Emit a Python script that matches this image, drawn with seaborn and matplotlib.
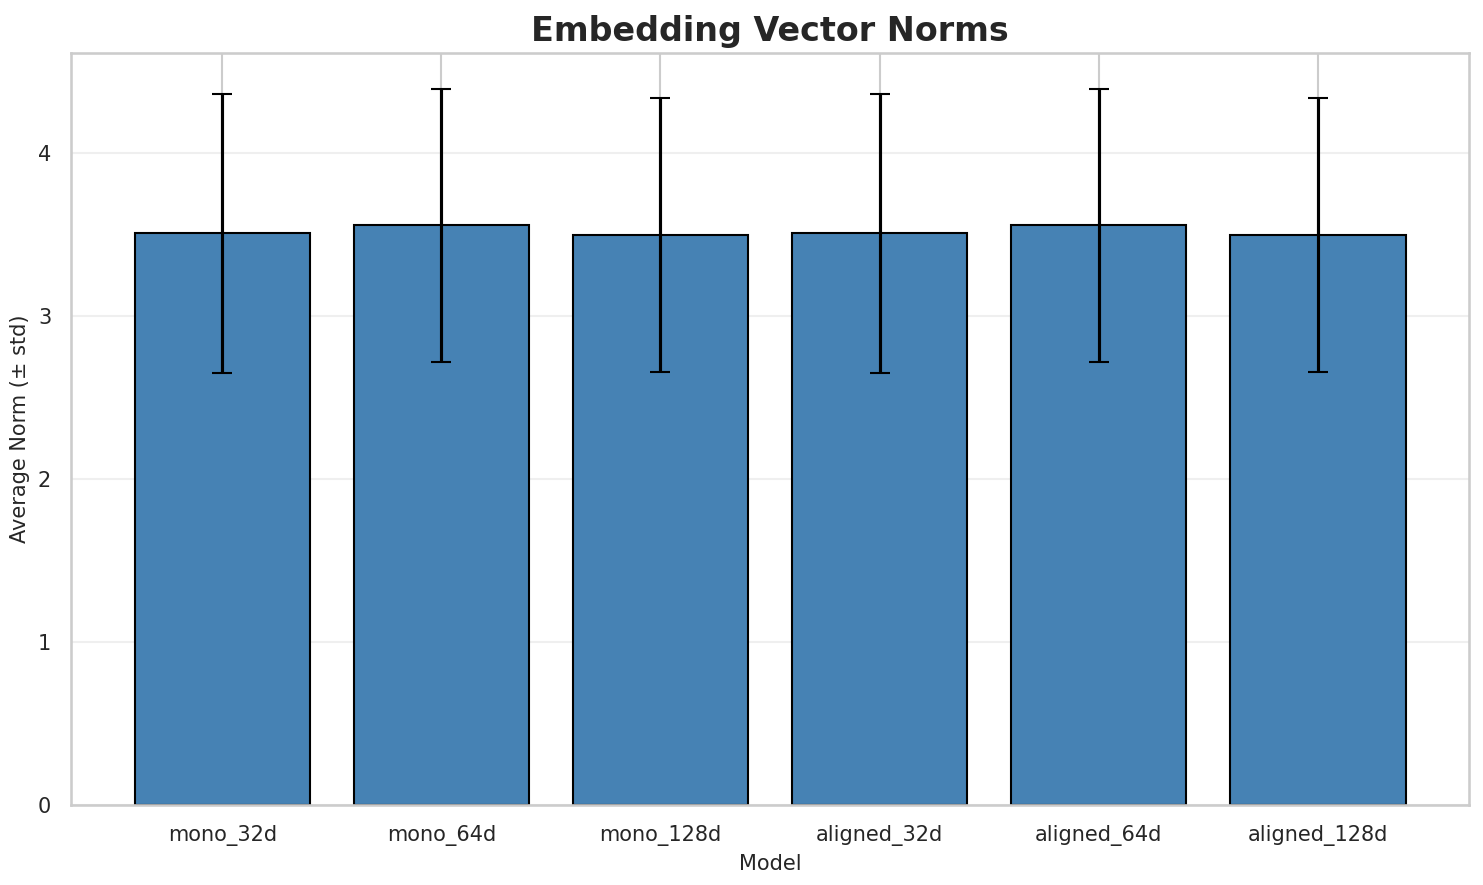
import seaborn as sns
from matplotlib import pyplot as plt
import pandas as pd

sns.set_theme(style="whitegrid")

models = ["mono_32d", "mono_64d", "mono_128d", "aligned_32d", "aligned_64d", "aligned_128d"]
mean_norm = [3.506, 3.555, 3.497, 3.506, 3.555, 3.497]
std_norm = [0.856, 0.838, 0.840, 0.856, 0.838, 0.840]

df = pd.DataFrame({"model": models, "mean": mean_norm, "std": std_norm})

fig, ax = plt.subplots(figsize=(1483 / 150, 885 / 150), dpi=150)
ax.bar(df["model"], df["mean"], yerr=df["std"], capsize=5,
       color="steelblue", edgecolor="black", linewidth=1,
       error_kw={"elinewidth": 1.5, "capthick": 1, "ecolor": "black"})
ax.grid(axis="y", alpha=0.3)

ax.set_title("Embedding Vector Norms", fontsize=16, fontweight="bold")
ax.set_xlabel("Model", fontsize=10)
ax.set_ylabel("Average Norm (± std)", fontsize=10)
ax.tick_params(labelsize=10)

plt.subplots_adjust(left=0.0479, right=0.9906, top=0.9401, bottom=0.0904)
plt.savefig("out.png", dpi=150)
print("Wrote out.png")
